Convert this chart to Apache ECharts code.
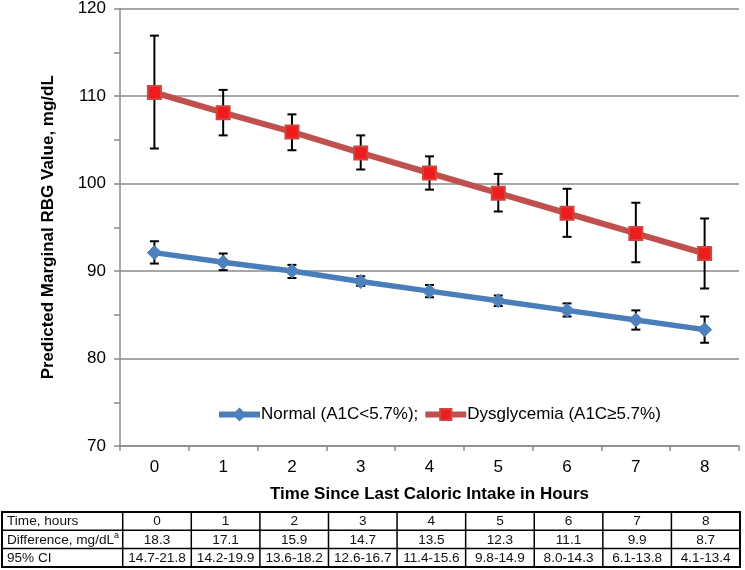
<!DOCTYPE html>
<html><head><meta charset="utf-8">
<script src="https://cdn.jsdelivr.net/npm/echarts@6/dist/echarts.min.js"></script>
<style>html,body{margin:0;padding:0;background:#fff}#c{width:745px;height:570px}</style>
</head><body><div id="c"></div>
<script>
var hours = ['0','1','2','3','4','5','6','7','8'];
var normalVals = [92.1, 91.0, 90.0, 88.8, 87.7, 86.6, 85.5, 84.4, 83.3];
var normalLow  = [90.85, 90.1, 89.2, 88.3, 87.0, 86.0, 84.8, 83.3, 81.8];
var normalHigh = [93.4, 92.0, 90.7, 89.4, 88.4, 87.2, 86.3, 85.5, 84.8];
var dysVals = [110.4, 108.1, 105.9, 103.5, 101.2, 98.9, 96.6, 94.3, 92.0];
var dysLow  = [104.0, 105.5, 103.8, 101.6, 99.3, 96.8, 93.9, 91.0, 88.0];
var dysHigh = [116.9, 110.7, 107.9, 105.5, 103.1, 101.1, 99.4, 97.8, 96.0];
var tableRowLabels = ['Time, hours', 'Difference, mg/dL{sup|a}', '95% CI'];
var tableDiff = ['18.3','17.1','15.9','14.7','13.5','12.3','11.1','9.9','8.7'];
var tableCI = ['14.7-21.8','14.2-19.9','13.6-18.2','12.6-16.7','11.4-15.6','9.8-14.9','8.0-14.3','6.1-13.8','4.1-13.4'];
var yTicks = {min: 70, max: 120, interval: 10};

var FONT = '"Liberation Sans", Arial, sans-serif';
var chart = echarts.init(document.getElementById('c'));

function errData(low, high) {
  return hours.map(function (h, i) { return [i, low[i], high[i]]; });
}
function errRender(params, api) {
  var x = api.value(0);
  var lo = api.coord([x, api.value(1)]);
  var hi = api.coord([x, api.value(2)]);
  var cap = 4.5;
  var st = {stroke: '#000', lineWidth: 2};
  return {type: 'group', children: [
    {type: 'line', shape: {x1: lo[0], y1: lo[1], x2: hi[0], y2: hi[1]}, style: st},
    {type: 'line', shape: {x1: lo[0]-cap, y1: lo[1], x2: lo[0]+cap, y2: lo[1]}, style: st},
    {type: 'line', shape: {x1: hi[0]-cap, y1: hi[1], x2: hi[0]+cap, y2: hi[1]}, style: st}
  ]};
}

// table graphic
var tTop = 512, rowH = 18.3, tLeft = 2, firstW = 120.7, colW = 68.59;
var rows = [hours, tableDiff, tableCI];
var g = [];
var tW = firstW + colW * hours.length;
g.push({type: 'rect', shape: {x: tLeft, y: tTop, width: tW, height: rowH * 3}, style: {fill: '#fff', stroke: '#000', lineWidth: 2}, z: 10});
for (var r = 1; r < 3; r++) {
  g.push({type: 'line', shape: {x1: tLeft, y1: tTop + r*rowH, x2: tLeft + tW, y2: tTop + r*rowH}, style: {stroke: '#000', lineWidth: 1.5}, z: 11});
}
for (var c = 0; c < hours.length; c++) {
  var xx = tLeft + firstW + c*colW;
  g.push({type: 'line', shape: {x1: xx, y1: tTop, x2: xx, y2: tTop + 3*rowH}, style: {stroke: '#000', lineWidth: 1.5}, z: 11});
}
for (var r2 = 0; r2 < 3; r2++) {
  g.push({type: 'text', x: tLeft + 5, y: tTop + r2*rowH + rowH/2 + 0.5, z: 12,
    style: {text: tableRowLabels[r2], font: '13.6px ' + FONT, fill: '#111', verticalAlign: 'middle', align: 'left',
      rich: {sup: {fontSize: 9, verticalAlign: 'top', padding: [0,0,8,0], fill: '#111', fontFamily: FONT}}}});
  for (var c2 = 0; c2 < hours.length; c2++) {
    g.push({type: 'text', x: tLeft + firstW + c2*colW + colW/2, y: tTop + r2*rowH + rowH/2 + 0.5, z: 12,
      style: {text: rows[r2][c2], font: '13.6px ' + FONT, fill: '#111', align: 'center', verticalAlign: 'middle'}});
  }
}

var gray = '#8a8a8a';
var option = {
  animation: false,
  backgroundColor: '#fff',
  textStyle: {fontFamily: FONT},
  grid: {left: 120, right: 6, top: 8, bottom: 124},
  legend: {
    data: ['Normal (A1C<5.7%);', 'Dysglycemia (A1C≥5.7%)'],
    left: 211, top: 401, itemGap: 4, itemWidth: 41, itemHeight: 14,
    lineStyle: {width: 6},
    textStyle: {fontSize: 17, color: '#000', fontFamily: FONT, padding: [0,0,0,-4]}
  },
  xAxis: {
    type: 'category', data: hours, boundaryGap: true,
    name: 'Time Since Last Caloric Intake in Hours', nameLocation: 'middle', nameGap: 40,
    nameTextStyle: {fontSize: 17, fontWeight: 'bold', color: '#000', fontFamily: FONT},
    axisLine: {lineStyle: {color: gray, width: 1.5}},
    axisTick: {show: true, interval: 0, length: 5, lineStyle: {color: gray, width: 1.5}},
    axisLabel: {fontSize: 17, color: '#000', margin: 13, fontFamily: FONT}
  },
  yAxis: {
    type: 'value', min: yTicks.min, max: yTicks.max, interval: yTicks.interval,
    name: 'Predicted Marginal RBG Value, mg/dL', nameLocation: 'middle', nameGap: 63,
    nameTextStyle: {fontSize: 17, fontWeight: 'bold', color: '#000', fontFamily: FONT},
    axisLine: {show: true, lineStyle: {color: gray, width: 1.5}},
    axisTick: {show: true, length: 6, lineStyle: {color: gray, width: 1.5}},
    minorTick: {show: true, splitNumber: 2, length: 6, lineStyle: {color: gray, width: 1.5}},
    splitLine: {show: true, lineStyle: {color: gray, width: 1.5}},
    axisLabel: {fontSize: 17, color: '#000', margin: 14, fontFamily: FONT}
  },
  graphic: g,
  series: [
    {type: 'custom', name: 'errN', renderItem: errRender, data: errData(normalLow, normalHigh), z: 1, silent: true},
    {type: 'custom', name: 'errD', renderItem: errRender, data: errData(dysLow, dysHigh), z: 1, silent: true},
    {type: 'line', name: 'Normal (A1C<5.7%);', data: normalVals, z: 3,
      symbol: 'diamond', symbolSize: 14,
      lineStyle: {color: '#4A7EBB', width: 5.5},
      itemStyle: {color: '#4F81BD', borderColor: '#4A7EBB', borderWidth: 1}},
    {type: 'line', name: 'Dysglycemia (A1C≥5.7%)', data: dysVals, z: 4,
      symbol: 'rect', symbolSize: 13,
      lineStyle: {color: '#C0504D', width: 6},
      itemStyle: {color: '#EE1C1C', borderColor: '#D0463F', borderWidth: 2}}
  ]
};
chart.setOption(option);
</script>
</body></html>
